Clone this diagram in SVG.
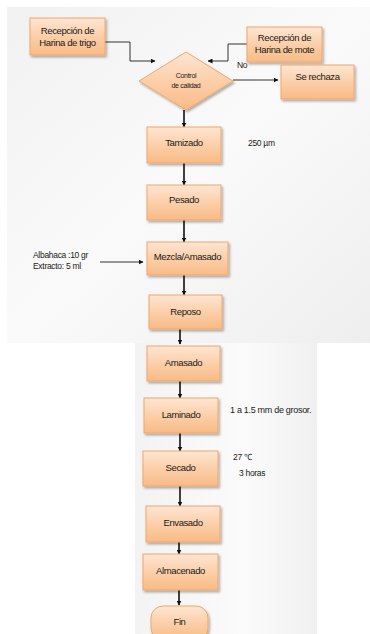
<svg xmlns="http://www.w3.org/2000/svg" width="370" height="634" viewBox="0 0 370 634">
<defs>
<linearGradient id="og" x1="0" y1="0" x2="0" y2="1">
<stop offset="0" stop-color="#fee6d3"/>
<stop offset="0.5" stop-color="#fccfa9"/>
<stop offset="1" stop-color="#f8bb86"/>
</linearGradient>
<linearGradient id="bg1" x1="0" y1="0" x2="1" y2="1">
<stop offset="0" stop-color="#f1f1f1"/>
<stop offset="0.5" stop-color="#fafafa"/>
<stop offset="1" stop-color="#eeeeee"/>
</linearGradient>
<linearGradient id="bg2" x1="0" y1="0" x2="1" y2="0">
<stop offset="0" stop-color="#f3f3f3"/>
<stop offset="0.6" stop-color="#fbfbfb"/>
<stop offset="1" stop-color="#f0f0f0"/>
</linearGradient>
<filter id="sh" x="-20%" y="-20%" width="150%" height="160%">
<feDropShadow dx="1.5" dy="2" stdDeviation="1.2" flood-color="#000" flood-opacity="0.3"/>
</filter>
<marker id="ar" viewBox="0 0 10 10" refX="9" refY="5" markerWidth="5" markerHeight="5" orient="auto" markerUnits="userSpaceOnUse">
<path d="M0,0 L10,5 L0,10 z" fill="#111"/>
</marker>
</defs>
<style>
.box{fill:url(#og);stroke:#f2a66a;stroke-width:1;filter:url(#sh)}
.t{font-family:"Liberation Sans",Arial,sans-serif;font-size:9.5px;fill:#1a1a1a;text-anchor:middle;letter-spacing:-0.4px}
.n{font-family:"Liberation Sans",Arial,sans-serif;font-size:8.5px;fill:#1a1a1a;letter-spacing:-0.3px}
.s{font-family:"Liberation Sans",Arial,sans-serif;font-size:7px;fill:#1a1a1a;text-anchor:middle;letter-spacing:-0.3px}
.c{fill:none;stroke:#111;stroke-width:1.6;marker-end:url(#ar)}
.c1{fill:none;stroke:#333;stroke-width:1;marker-end:url(#ar)}
</style>
<rect width="370" height="634" fill="#ffffff"/>
<rect x="7" y="7" width="363" height="336" fill="url(#bg1)"/>
<rect x="135" y="343" width="182" height="291" fill="url(#bg2)"/>
<g id="connectors">
<path class="c1" d="M105,42 H130 V61 H155"/>
<path class="c1" d="M247,44 H228 V61 H208"/>
<path class="c1" d="M233,80 H278"/>
<path class="c" d="M184,110 V127"/>
<path class="c" d="M184,163 V185"/>
<path class="c" d="M184,220 V242"/>
<path class="c1" d="M100,262 H143"/>
<path class="c" d="M184,275 V295"/>
<path class="c" d="M180,329 V344"/>
<path class="c" d="M180,381 V398"/>
<path class="c" d="M180,433 V451"/>
<path class="c" d="M180,486 V506"/>
<path class="c" d="M179,542 V554"/>
<path class="c" d="M179,590 V605"/>
</g>
<g id="n-trigo"><rect class="box" x="30" y="18" width="75" height="37"/><text class="t" x="67.5" y="34">Recepción de</text><text class="t" x="67.5" y="46">Harina de trigo</text></g>
<g id="n-mote"><rect class="box" x="247" y="27" width="75" height="35"/><text class="t" x="284.5" y="41">Recepción de</text><text class="t" x="284.5" y="53">Harina de mote</text></g>
<g id="n-control"><path class="box" d="M186,52 L233,81 L186,110 L139,81 z"/><text class="s" x="186" y="78">Control</text><text class="s" x="186" y="88">de calidad</text></g>
<g id="l-no"><text class="n" x="237" y="68">No</text></g>
<g id="n-rechaza"><rect class="box" x="281" y="65" width="73" height="34"/><text class="t" x="317.5" y="80">Se rechaza</text></g>
<g id="n-tamizado"><rect class="box" x="147" y="127" width="74" height="36"/><text class="t" x="184" y="146">Tamizado</text></g>
<g id="l-250"><text class="n" x="248" y="146">250 µm</text></g>
<g id="n-pesado"><rect class="box" x="147" y="185" width="74" height="35"/><text class="t" x="184" y="203">Pesado</text></g>
<g id="n-mezcla"><rect class="box" x="147" y="242" width="81" height="33"/><text class="t" x="187.5" y="260">Mezcla/Amasado</text></g>
<g id="l-albahaca"><text class="n" x="33" y="258">Albahaca :10 gr</text><text class="n" x="33" y="269">Extracto: 5 ml</text></g>
<g id="n-reposo"><rect class="box" x="149" y="295" width="73" height="34"/><text class="t" x="185.5" y="315">Reposo</text></g>
<g id="n-amasado"><rect class="box" x="147" y="346" width="73" height="35"/><text class="t" x="183.5" y="366">Amasado</text></g>
<g id="n-laminado"><rect class="box" x="144" y="398" width="74" height="35"/><text class="t" x="181" y="418">Laminado</text></g>
<g id="l-grosor"><text class="n" x="230" y="413" style="font-size:9px">1 a 1.5 mm de grosor.</text></g>
<g id="n-secado"><rect class="box" x="143" y="451" width="75" height="35"/><text class="t" x="180.5" y="471">Secado</text></g>
<g id="l-secado"><text class="n" x="233" y="460">27 ℃</text><text class="n" x="239" y="476">3 horas</text></g>
<g id="n-envasado"><rect class="box" x="146" y="506" width="74" height="36"/><text class="t" x="183" y="526">Envasado</text></g>
<g id="n-almacenado"><rect class="box" x="143" y="554" width="75" height="36"/><text class="t" x="180.5" y="574">Almacenado</text></g>
<g id="n-fin"><rect class="box" x="151" y="606" width="57" height="34" rx="12"/><text class="t" x="179.5" y="625">Fin</text></g>
</svg>
